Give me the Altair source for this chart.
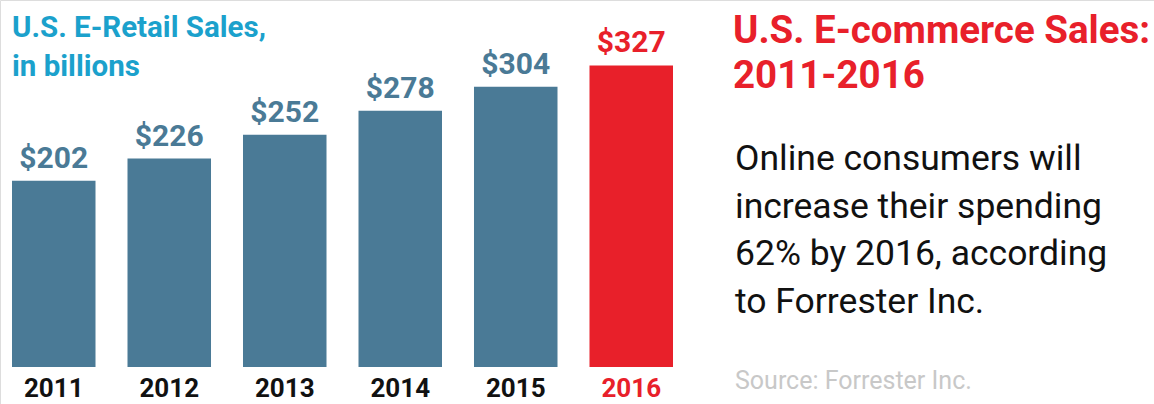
import altair as alt
import pandas as pd

years = ["2011", "2012", "2013", "2014", "2015", "2016"]
sales = [202, 226, 252, 278, 304, 327]
value_labels = ["$202", "$226", "$252", "$278", "$304", "$327"]

left_title = ["U.S. E-Retail Sales,", "in billions"]
right_title = ["U.S. E-commerce Sales:", "2011-2016"]
body_lines = ["Online consumers will", "increase their spending",
              "62% by 2016, according", "to Forrester Inc."]
source_text = "Source: Forrester Inc."

BLUE = "#4a7a96"
RED = "#e8202a"
TEAL = "#1ba1cc"

df = pd.DataFrame({"year": years, "sales": sales, "label": value_labels})

xenc = alt.X("year:N", sort=years, axis=None,
             scale=alt.Scale(range=[12, 673], paddingInner=0.277, paddingOuter=0))
yenc = alt.Y("sales:Q", axis=None, scale=alt.Scale(domain=[0, 398], range=[367, 0]))
is2016 = alt.datum.year == "2016"

bars = alt.Chart(df).mark_bar().encode(
    x=xenc, y=yenc,
    color=alt.condition(is2016, alt.value(RED), alt.value(BLUE)),
)

vals = alt.Chart(df).mark_text(
    font="Roboto", fontWeight="bold", fontSize=30, baseline="alphabetic", dy=-13
).encode(
    x=xenc, y=yenc, text="label:N",
    color=alt.condition(is2016, alt.value(RED), alt.value(BLUE)),
)

yrs = alt.Chart(df).mark_text(
    font="Roboto", fontWeight="bold", fontSize=26, baseline="alphabetic"
).encode(
    x=xenc, y=alt.value(397), text="year:N",
    color=alt.condition(is2016, alt.value(RED), alt.value("#111111")),
)

def line_layer(text, x, y, **kw):
    return alt.Chart(pd.DataFrame({"t": [text]})).mark_text(
        align="left", baseline="alphabetic", **kw
    ).encode(x=alt.value(x), y=alt.value(y), text="t:N")

layers = [bars, vals, yrs]
for i, t in enumerate(left_title):
    layers.append(line_layer(t, 12, 37 + 39 * i, font="Roboto",
                             fontWeight="bold", fontSize=29.5, color=TEAL))
for i, t in enumerate(right_title):
    layers.append(line_layer(t, 733, 43 + 45 * i, font="Roboto",
                             fontWeight="bold", fontSize=38.5, color=RED))
for i, t in enumerate(body_lines):
    layers.append(line_layer(t, 735, 170 + 47.5 * i, font="Roboto",
                             fontSize=35.5, color="#111111"))
layers.append(line_layer(source_text, 735, 389, font="Roboto", fontSize=25,
                         color="#c8c8c8"))

chart = alt.layer(*layers).properties(
    width=1154, height=404,
    autosize=alt.AutoSizeParams(type="none"),
    padding=0,
).configure_view(stroke=None).configure(background="white")

chart.save("out.html", embed_options={"renderer": "svg", "actions": False})
